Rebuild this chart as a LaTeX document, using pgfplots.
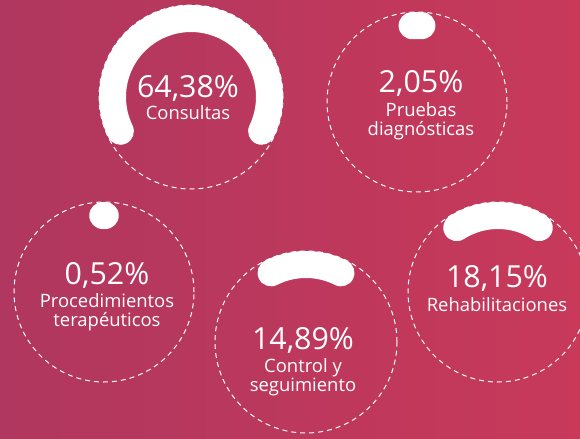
\documentclass[border=0pt]{standalone}
\usepackage{pgfplots}
\pgfplotsset{compat=1.18}
\usepackage{fontspec}
\setmainfont{Open Sans}
\definecolor{bgL}{HTML}{B0375F}
\definecolor{bgR}{HTML}{C8395A}
% gauge: centre x, centre y (pixels, y downwards), radius of dashed circle, percentage
\newcommand{\gauge}[4]{%
  \addplot[white, line width=1bp, dash pattern=on 5bp off 4bp, domain=0:360, samples=180, variable=\t]
    ({#1+#3*cos(t)},{#2-#3*sin(t)});
  \addplot[white, line width=27bp, line cap=round, domain={90-1.8*#4}:{90+1.8*#4}, samples=90, variable=\t]
    ({#1+(#3-13.5)*cos(t)},{#2-(#3-13.5)*sin(t)});
}
\newcommand{\pct}{\fontsize{30.5}{32}\selectfont}
\newcommand{\lab}{\fontsize{18.5}{19.5}\selectfont}
\begin{document}
\begin{tikzpicture}
\begin{axis}[
  width=580bp, height=438bp, scale only axis,
  xmin=0, xmax=580, ymin=0, ymax=438, y dir=reverse,
  axis line style={draw=none}, xtick=\empty, ytick=\empty,
  axis background/.style={left color=bgL, right color=bgR},
]
% Consultas 64.38
\gauge{191}{97}{92}{64.38}
% Pruebas diagnosticas 2.05
\gauge{417}{102}{90}{2.05}
% Procedimientos terapeuticos 0.52
\gauge{104}{292}{90}{0.52}
% Control y seguimiento 14.89
\gauge{306}{342}{91}{14.89}
% Rehabilitaciones 18.15
\gauge{498}{292}{90}{18.15}

\node[white, font=\pct] at (axis cs:188,88) {64,38\%};
\node[white, font=\lab] at (axis cs:188,113) {Consultas};

\node[white, font=\pct] at (axis cs:421,83) {2,05\%};
\node[white, font=\lab, align=center] at (axis cs:421,121) {Pruebas\\diagn\'osticas};

\node[white, font=\pct] at (axis cs:107,275) {0,52\%};
\node[white, font=\lab, align=center] at (axis cs:107,312) {Procedimientos\\terap\'euticos};

\node[white, font=\pct] at (axis cs:303,340) {14,89\%};
\node[white, font=\lab, align=center] at (axis cs:303,377) {Control y\\seguimiento};

\node[white, font=\pct] at (axis cs:497,278) {18,15\%};
\node[white, font=\lab] at (axis cs:497,305) {Rehabilitaciones};
\end{axis}
\end{tikzpicture}
\end{document}
